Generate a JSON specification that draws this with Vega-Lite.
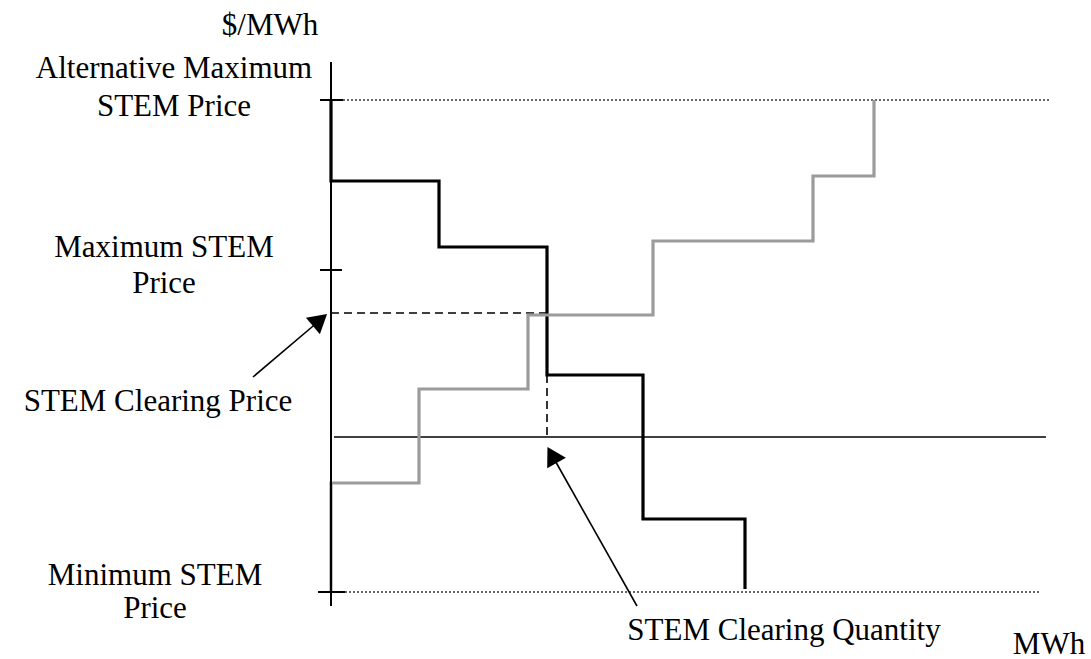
{
  "$schema": "https://vega.github.io/schema/vega-lite/v6.json",
  "width": 1091,
  "height": 659,
  "padding": 0,
  "autosize": "none",
  "background": "white",
  "config": {"view": {"stroke": null}},
  "datasets": {
    "curves": [
      {"series": "demand", "i": 0, "x": 0, "y": 337},
      {"series": "demand", "i": 1, "x": 0, "y": 256},
      {"series": "demand", "i": 2, "x": 108, "y": 256},
      {"series": "demand", "i": 3, "x": 108, "y": 190},
      {"series": "demand", "i": 4, "x": 216, "y": 190},
      {"series": "demand", "i": 5, "x": 216, "y": 62},
      {"series": "demand", "i": 6, "x": 312, "y": 62},
      {"series": "demand", "i": 7, "x": 312, "y": -82},
      {"series": "demand", "i": 8, "x": 414, "y": -82},
      {"series": "demand", "i": 9, "x": 414, "y": -152},
      {"series": "supply", "i": 0, "x": 0, "y": -155},
      {"series": "supply", "i": 1, "x": 0, "y": -46},
      {"series": "supply", "i": 2, "x": 88, "y": -46},
      {"series": "supply", "i": 3, "x": 88, "y": 48},
      {"series": "supply", "i": 4, "x": 197, "y": 48},
      {"series": "supply", "i": 5, "x": 197, "y": 122},
      {"series": "supply", "i": 6, "x": 322, "y": 122},
      {"series": "supply", "i": 7, "x": 322, "y": 196},
      {"series": "supply", "i": 8, "x": 482, "y": 196},
      {"series": "supply", "i": 9, "x": 482, "y": 261},
      {"series": "supply", "i": 10, "x": 543, "y": 261},
      {"series": "supply", "i": 11, "x": 543, "y": 337}
    ],
    "segments": [
      {"kind": "axis", "x": 0, "y": 375, "x2": 0, "y2": -169},
      {"kind": "axis", "x": -11, "y": 337, "x2": 12, "y2": 337},
      {"kind": "axis", "x": -11, "y": 167, "x2": 11, "y2": 167},
      {"kind": "axis", "x": -13, "y": -155, "x2": 14, "y2": -155},
      {"kind": "dotted", "x": 12, "y": 337, "x2": 720, "y2": 337},
      {"kind": "dotted", "x": 14, "y": -155, "x2": 709, "y2": -155},
      {"kind": "solid", "x": 3, "y": 0, "x2": 715, "y2": 0},
      {"kind": "dashed", "x": 0, "y": 124, "x2": 216, "y2": 124},
      {"kind": "dashed", "x": 216, "y": 62, "x2": 216, "y2": -1},
      {"kind": "arrow", "x": -78, "y": 60, "x2": -12, "y2": 116},
      {"kind": "arrow", "x": 306, "y": -169, "x2": 222, "y2": -20}
    ],
    "heads": [
      {"x": -11, "y": 117, "angle": 49.6},
      {"x": 221, "y": -18, "angle": 330.7}
    ],
    "labels": [
      {"text": "$/MWh", "x": -61, "y": 402},
      {"text": "Alternative Maximum", "x": -157, "y": 359},
      {"text": "STEM Price", "x": -157, "y": 321},
      {"text": "Maximum STEM", "x": -167, "y": 180},
      {"text": "Price", "x": -167, "y": 144},
      {"text": "STEM Clearing Price", "x": -173, "y": 26},
      {"text": "Minimum STEM", "x": -176, "y": -148},
      {"text": "Price", "x": -176, "y": -181},
      {"text": "STEM Clearing Quantity", "x": 453, "y": -203},
      {"text": "MWh", "x": 718, "y": -217}
    ]
  },
  "encoding": {
    "x": {"field": "x", "type": "quantitative", "scale": {"domain": [-331, 760], "nice": false, "zero": false}, "axis": null},
    "y": {"field": "y", "type": "quantitative", "scale": {"domain": [-222, 437], "nice": false, "zero": false}, "axis": null}
  },
  "layer": [
    {
      "data": {"name": "segments"},
      "transform": [{"filter": "datum.kind === 'dotted'"}],
      "mark": {"type": "rule", "color": "#333333", "strokeWidth": 1.3, "strokeDash": [2, 2]},
      "encoding": {"x2": {"field": "x2"}, "y2": {"field": "y2"}}
    },
    {
      "data": {"name": "segments"},
      "transform": [{"filter": "datum.kind === 'solid'"}],
      "mark": {"type": "rule", "color": "#000000", "strokeWidth": 1.6},
      "encoding": {"x2": {"field": "x2"}, "y2": {"field": "y2"}}
    },
    {
      "data": {"name": "segments"},
      "transform": [{"filter": "datum.kind === 'dashed'"}],
      "mark": {"type": "rule", "color": "#000000", "strokeWidth": 1.6, "strokeDash": [8, 5]},
      "encoding": {"x2": {"field": "x2"}, "y2": {"field": "y2"}}
    },
    {
      "data": {"name": "curves"},
      "mark": {"type": "line", "strokeWidth": 3.2, "strokeJoin": "miter", "strokeCap": "butt"},
      "encoding": {
        "color": {"field": "series", "type": "nominal", "scale": {"domain": ["demand", "supply"], "range": ["#000000", "#9b9b9b"]}, "legend": null},
        "order": {"field": "i", "type": "quantitative"}
      }
    },
    {
      "data": {"name": "segments"},
      "transform": [{"filter": "datum.kind === 'axis'"}],
      "mark": {"type": "rule", "color": "#000000", "strokeWidth": 2},
      "encoding": {"x2": {"field": "x2"}, "y2": {"field": "y2"}}
    },
    {
      "data": {"name": "segments"},
      "transform": [{"filter": "datum.kind === 'arrow'"}],
      "mark": {"type": "rule", "color": "#000000", "strokeWidth": 1.6},
      "encoding": {"x2": {"field": "x2"}, "y2": {"field": "y2"}}
    },
    {
      "data": {"name": "heads"},
      "mark": {"type": "point", "shape": "triangle-up", "filled": true, "color": "#000000", "size": 460, "opacity": 1},
      "encoding": {"angle": {"field": "angle", "type": "quantitative", "scale": null}}
    },
    {
      "data": {"name": "labels"},
      "mark": {"type": "text", "font": "Liberation Serif", "fontSize": 31, "color": "#000000", "align": "center", "baseline": "alphabetic"},
      "encoding": {"text": {"field": "text", "type": "nominal"}}
    }
  ]
}
